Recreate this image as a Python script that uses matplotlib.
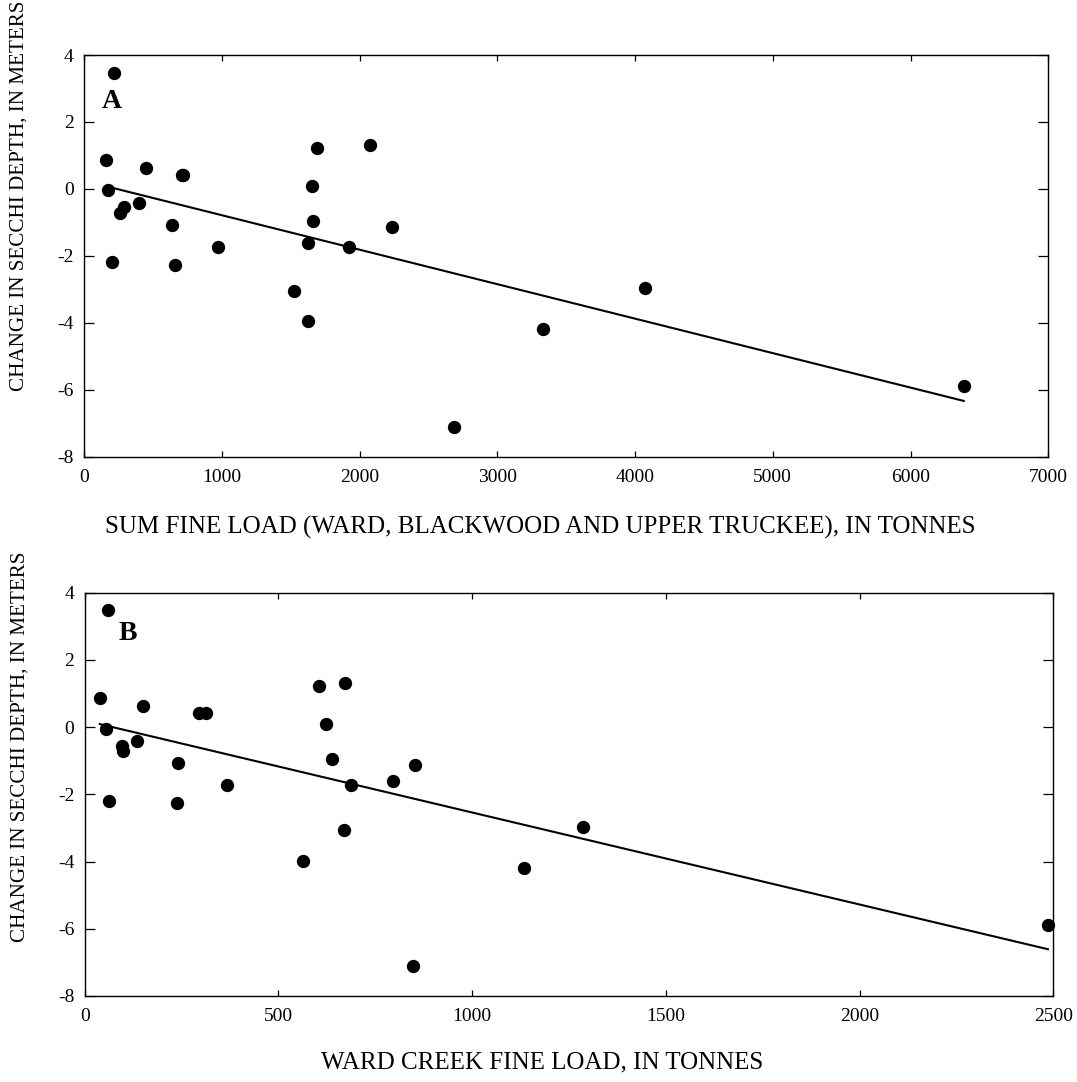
import numpy as np
import matplotlib
matplotlib.use("Agg")
import matplotlib.pyplot as plt

plt.rcParams['font.family'] = ['Liberation Serif', 'DejaVu Serif']
plt.rcParams['axes.unicode_minus'] = False

# Panel A: sum fine load (tonnes) vs change in Secchi depth (m)
sum_load = [218, 160, 174, 261, 293, 402, 450, 206, 636, 663, 710, 720, 973,
            1527, 1626, 1624, 1653, 1662, 1689, 1926, 2074, 2238, 4069, 3332,
            2683, 6386]
secchi_a = [3.47, 0.86, -0.04, -0.71, -0.55, -0.41, 0.63, -2.19, -1.08, -2.27,
            0.41, 0.41, -1.73, -3.04, -1.61, -3.96, 0.10, -0.95, 1.22, -1.73,
            1.31, -1.13, -2.97, -4.19, -7.12, -5.88]

# Panel B: Ward Creek fine load (tonnes) vs change in Secchi depth (m)
ward_load = [61, 39, 54, 95, 98, 135, 150, 64, 241, 237, 295, 312, 368, 564,
             605, 623, 639, 673, 669, 688, 795, 853, 1285, 1134, 847, 2486]
secchi_b = [3.48, 0.86, -0.05, -0.55, -0.72, -0.41, 0.63, -2.20, -1.08, -2.27,
            0.41, 0.41, -1.73, -3.97, 1.22, 0.09, -0.95, 1.31, -3.06, -1.73,
            -1.60, -1.13, -2.97, -4.19, -7.12, -5.90]

yticks = [4, 2, 0, -2, -4, -6, -8]
xticks_a = [0, 1000, 2000, 3000, 4000, 5000, 6000, 7000]
xticks_b = [0, 500, 1000, 1500, 2000, 2500]

ylabel = "CHANGE IN SECCHI DEPTH, IN METERS"
xlabel_a = "SUM FINE LOAD (WARD, BLACKWOOD AND UPPER TRUCKEE), IN TONNES"
xlabel_b = "WARD CREEK FINE LOAD, IN TONNES"

fig = plt.figure(figsize=(10.77, 10.82), dpi=100)
W, H = 1077, 1082
axA = fig.add_axes([84 / W, 1 - 456.7 / H, (1048.3 - 84) / W, (456.7 - 55) / H])
axB = fig.add_axes([84.7 / W, 1 - 996 / H, (1053.3 - 84.7) / W, (996 - 592.7) / H])


def draw(ax, x, y, xticks, xlim, xlabel, letter, letter_pos, ylab_y, xlab_pos):
    x = np.asarray(x, float)
    y = np.asarray(y, float)
    ax.scatter(x, y, s=92, color='black', zorder=3, clip_on=False, linewidths=0)
    m, b = np.polyfit(x, y, 1)
    xs = np.array([x.min(), x.max()])
    ax.plot(xs, m * xs + b, color='black', lw=1.5, zorder=2)
    ax.set_xlim(*xlim)
    ax.set_ylim(-8, 4)
    ax.set_xticks(xticks)
    ax.set_yticks(yticks)
    ax.tick_params(axis='both', direction='in', top=True, right=True,
                   labelsize=14, color='black')
    ax.tick_params(axis='x', length=4.5, width=0.9, pad=8.5)
    ax.tick_params(axis='y', length=7, width=0.9, pad=7.5)
    for sp in ax.spines.values():
        sp.set_linewidth(1.0)
    ax.set_xlabel(xlabel, fontsize=18)
    ax.xaxis.label.set_va('center')
    ax.xaxis.set_label_coords(*xlab_pos)
    ax.set_ylabel(ylabel, fontsize=15.2)
    ax.yaxis.label.set_va('center')
    ax.yaxis.set_label_coords(-0.067, ylab_y)
    ax.text(letter_pos[0], letter_pos[1], letter, transform=ax.transAxes,
            fontsize=20, fontweight='bold', ha='center', va='center')


draw(axA, sum_load, secchi_a, xticks_a, (0, 7000), xlabel_a, 'A',
     (0.029, 0.885), 0.65, (0.473, -0.175))
draw(axB, ward_load, secchi_b, xticks_b, (0, 2500), xlabel_b, 'B',
     (0.045, 0.899), 0.6175, (0.472, -0.166))

fig.savefig("out.png", dpi=100)
